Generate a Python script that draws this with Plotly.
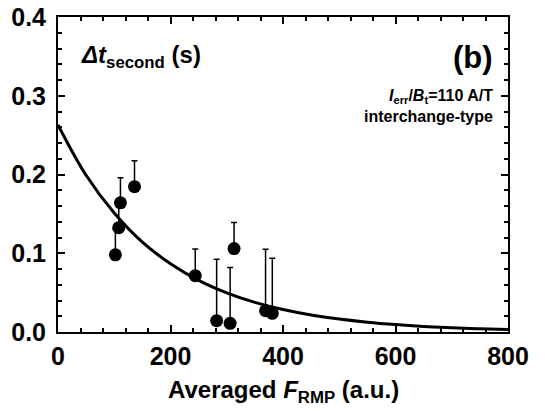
import plotly.graph_objects as go

# Measured points (Averaged F_RMP, delta t_second) with upward error bars
f_rmp = [102, 108, 111, 136, 244, 282, 306, 313, 369, 381]
dt_second = [0.098, 0.1325, 0.164, 0.1845, 0.0715, 0.0144, 0.011, 0.106, 0.027, 0.0237]
dt_err_up = [0.033, 0.033, 0.032, 0.033, 0.034, 0.078, 0.071, 0.033, 0.078, 0.070]

# Fitted curve
fit_x = [0, 50, 100, 150, 200, 250, 300, 350, 400, 450, 500, 550, 600, 650, 700, 750, 800]
fit_y = [0.263, 0.199, 0.151, 0.114, 0.0867, 0.0656, 0.0497, 0.0376, 0.0285, 0.0216,
         0.0164, 0.0124, 0.0094, 0.0071, 0.0054, 0.0041, 0.0031]

x_ticks = [0, 200, 400, 600, 800]
x_tick_labels = ["0", "200", "400", "600", "800"]
y_ticks = [0.0, 0.1, 0.2, 0.3, 0.4]
y_tick_labels = ["0.0", "0.1", "0.2", "0.3", "0.4"]

FONT = "Liberation Sans, Arial, sans-serif"

fig = go.Figure()
fig.add_trace(go.Scatter(
    x=fit_x, y=fit_y, mode="lines",
    line=dict(color="black", width=3, shape="spline"),
    hoverinfo="skip", showlegend=False,
))
fig.add_trace(go.Scatter(
    x=f_rmp, y=dt_second, mode="markers",
    marker=dict(color="black", size=13),
    error_y=dict(type="data", symmetric=False, array=dt_err_up,
                 arrayminus=[0] * len(dt_err_up),
                 color="black", thickness=1.5, width=3),
    showlegend=False,
))

axis_common = dict(
    showline=True, linecolor="black", linewidth=2, mirror="allticks",
    ticks="inside", ticklen=7, tickwidth=2, tickcolor="black",
    showgrid=False, zeroline=False, automargin=False,
    ticklabeloverflow="allow",
    tickfont=dict(family=FONT, size=25, color="black"),
)

fig.update_xaxes(
    range=[0, 800], tickvals=x_ticks, ticktext=["<b>%s</b>" % t for t in x_tick_labels],
    minor=dict(dtick=40, ticks="inside", ticklen=4, tickwidth=1.5, tickcolor="black"),
    ticklabelstandoff=1,
    **axis_common,
)
fig.update_yaxes(
    range=[0, 0.4], tickvals=y_ticks, ticktext=["<b>%s</b>" % t for t in y_tick_labels],
    minor=dict(dtick=0.02, ticks="inside", ticklen=4, tickwidth=1.5, tickcolor="black"),
    ticklabelstandoff=5,
    **axis_common,
)

fig.update_layout(
    width=545, height=414,
    margin=dict(l=58, r=37, t=17, b=82, autoexpand=False),
    paper_bgcolor="white", plot_bgcolor="white",
    font=dict(family=FONT, color="black"),
    annotations=[
        dict(text="<b>Averaged <i>F</i><sub>RMP</sub> (a.u.)</b>", xref="paper", yref="paper",
             x=0.5, y=-0.19, xanchor="center", yanchor="middle", showarrow=False,
             font=dict(family=FONT, size=24, color="black")),
        dict(text="<b><i>Δt</i><sub>second</sub> (s)</b>", xref="paper", yref="paper",
             x=0.047, y=0.875, xanchor="left", yanchor="middle", showarrow=False,
             font=dict(family=FONT, size=24, color="black")),
        dict(text="<b>(b)</b>", xref="paper", yref="paper",
             x=0.97, y=0.872, xanchor="right", yanchor="middle", showarrow=False,
             font=dict(family=FONT, size=31, color="black")),
        dict(text="<b><i>I</i><sub>err</sub>/<i>B</i><sub>t</sub>=110 A/T</b>", xref="paper", yref="paper",
             x=0.97, y=0.748, xanchor="right", yanchor="middle", showarrow=False,
             font=dict(family=FONT, size=16, color="black")),
        dict(text="<b>interchange-type</b>", xref="paper", yref="paper",
             x=0.97, y=0.683, xanchor="right", yanchor="middle", showarrow=False,
             font=dict(family=FONT, size=16, color="black")),
    ],
)

fig.write_html("out.html", config={"displayModeBar": False},
               post_script="document.body.style.margin='0';")
